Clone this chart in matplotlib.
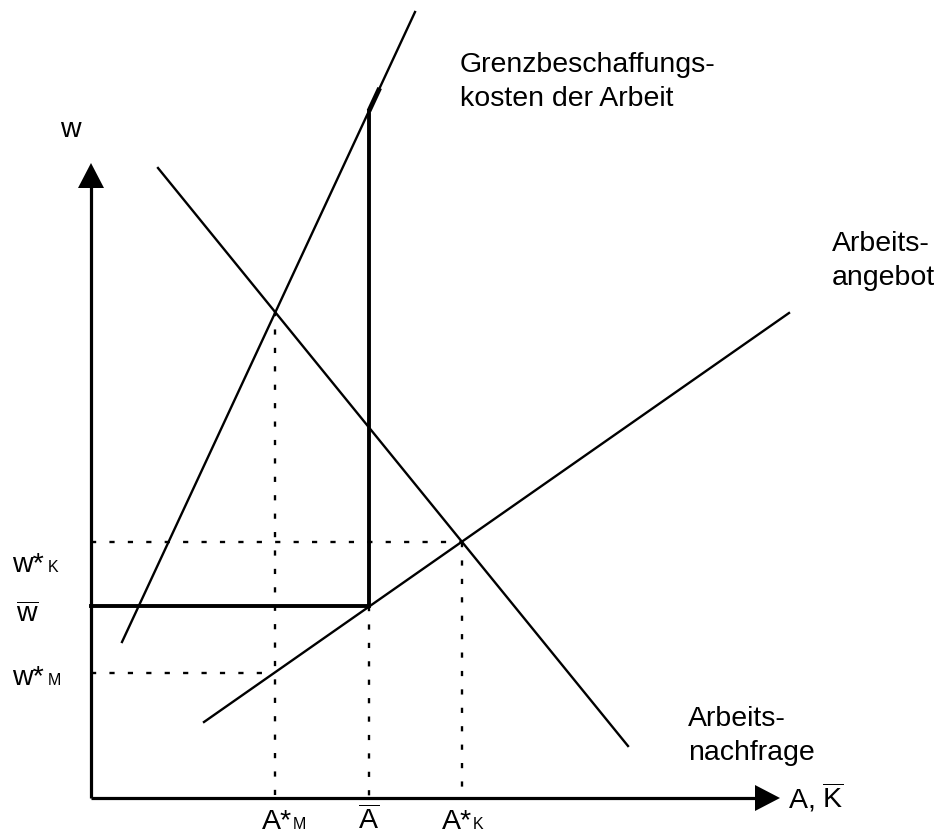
import matplotlib.pyplot as plt
import numpy as np

plt.rcParams['font.family'] = ['Liberation Sans', 'DejaVu Sans']
plt.rcParams['mathtext.fontset'] = 'custom'
plt.rcParams['mathtext.rm'] = 'Liberation Sans'

# Diagram values (A = labour, w = wage), origin at the axes corner
A_max, w_max = 689, 635

# Grenzbeschaffungskosten, Nachfrage, Angebot (end points)
mfc_A = [31, 324]
mfc_w = [156, 786]
demand_A = [67, 537]
demand_w = [630, 52]
supply_A = [113, 698]
supply_w = [76, 485]

# Equilibria
A_bar, w_bar = 278, 192       # Mindestlohn
A_K, w_K = 371, 256           # Konkurrenz
A_M, w_M = 184, 125           # Monopson
w_M_top = 487                 # MFC = Nachfrage bei A*_M
thick_top_w = 710

fig = plt.figure(figsize=(9.49, 8.39), dpi=100)
ax = fig.add_axes([0, 0, 1, 1])
ax.set_xlim(-91, 858)
ax.set_ylim(-41, 798)
ax.axis('off')

k = 'black'

# Axes with arrowheads
ax.plot([0, A_max - 20], [0, 0], color=k, lw=2.3, solid_capstyle='butt')
ax.plot([0, 0], [0, w_max - 20], color=k, lw=2.3, solid_capstyle='butt')
ax.fill([A_max, A_max - 25, A_max - 25], [0, 13, -13], color=k, lw=0)
ax.fill([0, -13, 13], [w_max, w_max - 25, w_max - 25], color=k, lw=0)

# Curves
ax.plot(mfc_A, mfc_w, color=k, lw=1.7)
ax.plot(demand_A, demand_w, color=k, lw=1.7)
ax.plot(supply_A, supply_w, color=k, lw=1.7)

# Mindestlohn: thick kinked line
mfc_cross = np.interp(A_bar, mfc_A, mfc_w)
thick_A = np.interp(thick_top_w, mfc_w, mfc_A)
ax.plot([0, A_bar, A_bar], [w_bar, w_bar, mfc_cross], color=k, lw=2.8,
        solid_joinstyle='miter')
ax.plot([A_bar, thick_A], [mfc_cross, thick_top_w], color=k, lw=3.5,
        solid_capstyle='butt')

# Dotted guide lines
dot = dict(color=k, lw=1.7, linestyle=(0, (2.2, 5.6)))
ax.plot([0, A_K], [w_K, w_K], **dot)
ax.plot([A_K, A_K], [w_K, 0], **dot)
ax.plot([0, A_M], [w_M, w_M], **dot)
ax.plot([A_M, A_M], [w_M_top, 0], **dot)
ax.plot([A_bar, A_bar], [w_bar, 0], **dot)

fs = 20.5
sub = 11.5

# Axis labels
ax.text(-31, 661, 'w', fontsize=fs, va='baseline')
ax.text(697, -11, r'A, $\overline{\mathrm{K}}$', fontsize=fs, va='baseline')

# Wage labels
ax.text(-79, 226, 'w*', fontsize=fs, va='baseline')
ax.text(-43, 226, 'K', fontsize=sub, va='baseline')
ax.text(-75, 176, r'$\overline{\mathrm{w}}$', fontsize=fs, va='baseline')
ax.text(-79, 113, 'w*', fontsize=fs, va='baseline')
ax.text(-43, 113, 'M', fontsize=sub, va='baseline')

# Quantity labels
qy = -31
ax.text(171, qy, 'A*', fontsize=fs, va='baseline')
ax.text(202, qy, 'M', fontsize=sub, va='baseline')
ax.text(A_bar, qy, r'$\overline{\mathrm{A}}$', fontsize=fs, va='baseline', ha='center')
ax.text(351, qy, 'A*', fontsize=fs, va='baseline')
ax.text(382, qy, 'K', fontsize=sub, va='baseline')

# Curve labels
ax.text(369, 746, 'Grenzbeschaffungs-\nkosten der Arbeit', fontsize=fs, va='top',
        linespacing=1.4)
ax.text(741, 567, 'Arbeits-\nangebot', fontsize=fs, va='top', linespacing=1.4)
ax.text(597, 92, 'Arbeits-\nnachfrage', fontsize=fs, va='top', linespacing=1.4)

fig.savefig('out.png', dpi=100)
